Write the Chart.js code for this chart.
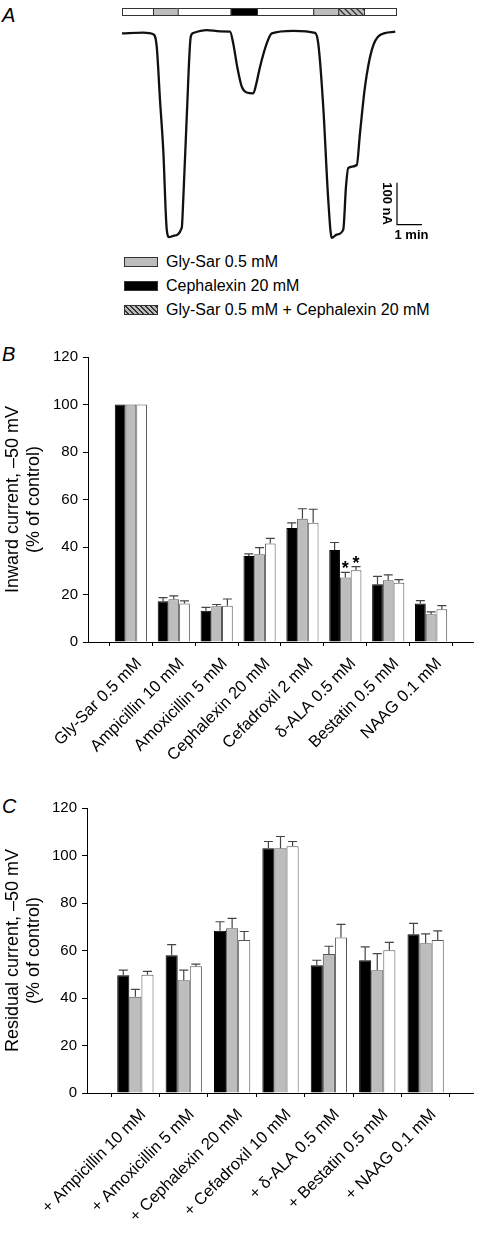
<!DOCTYPE html>
<html>
<head>
<meta charset="utf-8">
<script src="https://cdn.jsdelivr.net/npm/chart.js@4.4.0/dist/chart.umd.min.js"></script>
<style>
  body { margin: 0; width: 496px; height: 1233px; position: relative; background: #fff; overflow: hidden;
         font-family: "Liberation Sans", Arial, sans-serif; color: #000; }
  canvas { position: absolute; left: 0; }
  .letter { position: absolute; left: 2px; font-style: italic; font-size: 20px; line-height: 20px; }
  .legend { position: absolute; left: 124px; top: 250px; font-size: 16px; }
  .legend div { height: 24px; display: flex; align-items: center; }
  .sw { width: 34px; height: 10px; border: 1px solid #333; box-sizing: border-box; margin-right: 8px; }
</style>
</head>
<body>
<div class="letter" style="top:5px">A</div>
<div class="letter" style="top:344px">B</div>
<div class="letter" style="top:796px">C</div>

<canvas id="trace" width="496" height="250" style="top:0"></canvas>
<div class="legend">
  <div><span class="sw" style="background:#bdbdbd"></span>Gly-Sar 0.5 mM</div>
  <div><span class="sw" style="background:#000"></span>Cephalexin 20 mM</div>
  <div><span class="sw" style="background:repeating-linear-gradient(45deg,#bdbdbd 0 2px,#333 2px 3.5px)"></span>Gly-Sar 0.5 mM + Cephalexin 20 mM</div>
</div>
<canvas id="chartB" width="496" height="450" style="top:330px"></canvas>
<canvas id="chartC" width="496" height="453" style="top:780px"></canvas>

<script>
// ---- panel A: current trace (time in min, current in nA)
const traceTime = [0, 0.85, 1.25, 1.39, 1.52, 1.65, 1.79, 1.89, 2.05, 2.39, 2.45, 2.59, 2.75, 2.85, 3.39, 3.92,
  4.32, 4.45, 4.61, 4.79, 4.99, 5.25, 5.36, 5.52, 5.79, 5.99, 6.85, 7.72, 7.85, 8.05, 8.25, 8.39, 8.59, 8.85,
  8.96, 9.05, 9.39, 9.52, 9.72, 9.99, 10.32, 10.93];
const traceCurrent = [0, 2, -2, -32, -159, -278, -468, -486, -483, -464, -397, -199, -8, 1, 8, 5,
  4, -24, -80, -127, -141, -143, -123, -80, -24, 0, 6, 1, -24, -175, -397, -488, -480, -468,
  -365, -321, -314, -238, -127, -40, -4, 4];
// solution application bar: start, end (min), type
const appStart = [0, 1.24, 2.23, 4.35, 5.40, 7.65, 8.65, 9.68];
const appEnd = [1.24, 2.23, 4.35, 5.40, 7.65, 8.65, 9.68, 10.96];
const appType = ['none', 'glysar', 'none', 'cephalexin', 'none', 'glysar', 'both', 'none'];

// ---- panel B
const bCategories = ['Gly-Sar 0.5 mM', 'Ampicillin 10 mM', 'Amoxicillin 5 mM', 'Cephalexin 20 mM',
  'Cefadroxil 2 mM', 'δ-ALA 0.5 mM', 'Bestatin 0.5 mM', 'NAAG 0.1 mM'];
const bBlack = [100, 17.2, 13.2, 36.2, 48.0, 38.7, 24.3, 16.2];
const bBlackErr = [0, 1.5, 1.4, 0.9, 2.2, 3.2, 3.3, 1.2];
const bGray = [100, 18.0, 15.1, 37.0, 51.9, 27.2, 26.0, 11.7];
const bGrayErr = [0, 1.4, 0.7, 2.7, 4.2, 2.1, 2.3, 1.0];
const bWhite = [100, 16.2, 15.3, 41.5, 50.2, 30.2, 25.0, 13.8];
const bWhiteErr = [0, 1.1, 2.8, 2.1, 5.7, 1.5, 1.3, 1.5];
const bGrayStar = [false, false, false, false, false, true, false, false];
const bWhiteStar = [false, false, false, false, false, true, false, false];

// ---- panel C
const cCategories = ['+ Ampicillin 10 mM', '+ Amoxicillin 5 mM', '+ Cephalexin 20 mM', '+ Cefadroxil 10 mM',
  '+ δ-ALA 0.5 mM', '+ Bestatin 0.5 mM', '+ NAAG 0.1 mM'];
const cBlack = [49.6, 58.0, 68.3, 103.1, 53.8, 55.9, 66.8];
const cBlackErr = [2.1, 4.5, 3.8, 2.8, 2.1, 5.6, 4.6];
const cGray = [40.5, 47.5, 69.4, 103.1, 58.5, 51.7, 63.1];
const cGrayErr = [3.1, 4.2, 4.1, 4.9, 3.3, 7.0, 3.9];
const cWhite = [49.8, 53.4, 64.4, 103.9, 65.5, 60.1, 64.4];
const cWhiteErr = [1.4, 0.9, 3.6, 2.0, 5.5, 3.3, 3.9];

const yTicks = [0, 20, 40, 60, 80, 100, 120];

Chart.defaults.font.family = '"Liberation Sans", Arial, sans-serif';
Chart.defaults.color = '#000';

function hatch(ctx) {
  const c = document.createElement('canvas');
  c.width = 6; c.height = 6;
  const g = c.getContext('2d');
  g.fillStyle = '#bdbdbd'; g.fillRect(0, 0, 6, 6);
  g.strokeStyle = '#333'; g.lineWidth = 1.3;
  g.beginPath(); g.moveTo(-1, -1); g.lineTo(7, 7); g.moveTo(-1, 5); g.lineTo(1, 7); g.moveTo(5, -1); g.lineTo(7, 1); g.stroke();
  return ctx.createPattern(c, 'repeat');
}

const traceExtras = {
  id: 'traceExtras',
  afterDraw(chart) {
    const {ctx, scales: {x, y}} = chart;
    const fills = {none: '#fff', glysar: '#bdbdbd', cephalexin: '#000', both: hatch(ctx)};
    ctx.save();
    for (let i = 0; i < appStart.length; i++) {
      const x0 = x.getPixelForValue(appStart[i]), x1 = x.getPixelForValue(appEnd[i]);
      ctx.fillStyle = fills[appType[i]];
      ctx.fillRect(x0, 8, x1 - x0, 7);
      ctx.strokeStyle = '#333'; ctx.lineWidth = 1;
      ctx.strokeRect(x0 + 0.5, 8.5, x1 - x0, 7);
    }
    // scale bar: 100 nA, 1 min
    const sx = x.getPixelForValue(11), sx1 = x.getPixelForValue(12);
    const sy0 = y.getPixelForValue(-456), sy1 = y.getPixelForValue(-356);
    ctx.strokeStyle = '#000'; ctx.lineWidth = 1.2;
    ctx.beginPath(); ctx.moveTo(sx, sy1); ctx.lineTo(sx, sy0); ctx.lineTo(sx1, sy0); ctx.stroke();
    ctx.fillStyle = '#000';
    ctx.font = 'bold 13px "Liberation Sans", Arial, sans-serif';
    ctx.textAlign = 'center'; ctx.textBaseline = 'top';
    ctx.fillText('1 min', (sx + sx1) / 2 + 2, sy0 + 4);
    ctx.translate(sx - 10, (sy0 + sy1) / 2);
    ctx.rotate(Math.PI / 2);
    ctx.textBaseline = 'middle';
    ctx.fillText('100 nA', 0, 0);
    ctx.restore();
  }
};

new Chart(document.getElementById('trace'), {
  type: 'line',
  data: {
    datasets: [{
      label: 'Current',
      data: traceTime.map((t, i) => ({x: t, y: traceCurrent[i]})),
      borderColor: '#111', borderWidth: 2.3, pointRadius: 0,
      cubicInterpolationMode: 'monotone'
    }]
  },
  options: {
    responsive: false, animation: false,
    layout: {padding: {left: 122, right: 99, top: 25, bottom: 7}},
    plugins: {legend: {display: false}, tooltip: {enabled: false}},
    scales: {
      x: {type: 'linear', min: 0, max: 11, display: false},
      y: {min: -500, max: 20, display: false}
    }
  },
  plugins: [traceExtras]
});

const errorBars = {
  id: 'errorBars',
  afterDatasetsDraw(chart) {
    const {ctx, scales: {y}} = chart;
    ctx.save();
    chart.data.datasets.forEach((ds, di) => {
      const meta = chart.getDatasetMeta(di);
      meta.data.forEach((bar, i) => {
        const v = ds.data[i], e = ds.errors[i];
        if (v == null) return;
        const yt = y.getPixelForValue(v + e);
        if (e > 0) {
          ctx.strokeStyle = '#444'; ctx.lineWidth = 1.2;
          ctx.beginPath();
          ctx.moveTo(bar.x, bar.y); ctx.lineTo(bar.x, yt);
          ctx.moveTo(bar.x - 4.5, yt); ctx.lineTo(bar.x + 4.5, yt);
          ctx.stroke();
        }
        if (ds.stars && ds.stars[i]) {
          ctx.fillStyle = '#000';
          ctx.font = 'bold 18px "Liberation Sans", Arial, sans-serif';
          ctx.textAlign = 'center'; ctx.textBaseline = 'alphabetic';
          ctx.fillText('*', bar.x, yt + 2);
        }
      });
    });
    ctx.restore();
  }
};

const pad = a => [null, ...a, null];

function barChart(id, cats, series, title, axisLeft, axisRight, top, xHeight) {
  const colors = ['#000', '#bdbdbd', '#fff'];
  const borders = ['#000', '#555', '#555'];
  new Chart(document.getElementById(id), {
    type: 'bar',
    data: {
      labels: ['', ...cats, ''],
      datasets: series.map((s, k) => ({
        label: 'Series ' + (k + 1),
        data: pad(s.values),
        errors: pad(s.errors),
        stars: s.stars ? pad(s.stars) : null,
        backgroundColor: colors[k], borderColor: borders[k], borderWidth: 1,
        categoryPercentage: 0.75, barPercentage: 1.0
      }))
    },
    options: {
      responsive: false, animation: false,
      layout: {padding: {left: 0, right: 496 - axisRight, top: top, bottom: 0}},
      plugins: {legend: {display: false}, tooltip: {enabled: false}},
      scales: {
        x: {
          offset: false,
          grid: {drawOnChartArea: false, drawTicks: true, tickLength: 4, color: '#000'},
          border: {color: '#000', width: 1},
          ticks: {autoSkip: false, minRotation: 45, maxRotation: 45, font: {size: 16.5}, padding: 8, labelOffset: 8},
          afterFit(s) { s.height = xHeight; }
        },
        y: {
          min: yTicks[0], max: yTicks[yTicks.length - 1],
          afterBuildTicks(s) { s.ticks = yTicks.map(v => ({value: v})); },
          grid: {drawOnChartArea: false, drawTicks: true, tickLength: 5, color: '#000'},
          border: {color: '#000', width: 1},
          ticks: {font: {size: 15}, padding: 5},
          title: {display: true, text: title, font: {size: 18, lineHeight: 1.15}, padding: {top: 3, bottom: 0}},
          afterFit(s) { s.width = axisLeft; }
        }
      }
    },
    plugins: [errorBars]
  });
}

barChart('chartB', bCategories, [
  {values: bBlack, errors: bBlackErr},
  {values: bGray, errors: bGrayErr, stars: bGrayStar},
  {values: bWhite, errors: bWhiteErr, stars: bWhiteStar}
], ['Inward current, –50 mV', '(% of control)'], 88, 495, 27, 138);

barChart('chartC', cCategories, [
  {values: cBlack, errors: cBlackErr},
  {values: cGray, errors: cGrayErr},
  {values: cWhite, errors: cWhiteErr}
], ['Residual current, –50 mV', '(% of control)'], 87, 494, 28, 140);
</script>
</body>
</html>
